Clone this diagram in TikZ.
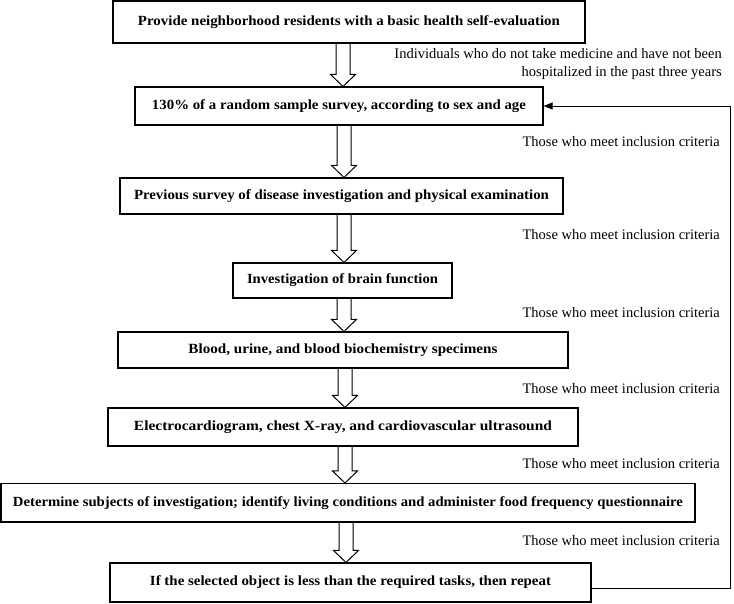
\documentclass[tikz,border=0pt]{standalone}
\usepackage{fontspec}
\setmainfont{Liberation Serif}
\usetikzlibrary{arrows.meta,calc}
\pgfdeclarelayer{bg}
\pgfdeclarelayer{paper}
\pgfsetlayers{paper,bg,main}
\newcommand{\fitw}[2]{\resizebox{#1}{\height}{#2}}
\newcommand{\hollowarrow}[3]{%
  \begin{pgfonlayer}{bg}
  \draw[blk] let \p1=(#2.south), \p2=(#3.north) in
    (#1pt-7pt,\y1) -- (#1pt-7pt,\y2+12pt) -- (#1pt-12.5pt,\y2+12pt) -- (#1pt,\y2)
    -- (#1pt+12.5pt,\y2+12pt) -- (#1pt+7pt,\y2+12pt) -- (#1pt+7pt,\y1);
  \end{pgfonlayer}}
\begin{document}
\begin{tikzpicture}[x=1pt,y=-1pt,
  box/.style={draw=black, line width=1.1pt, fill=white, rectangle, inner sep=0pt,
              font=\bfseries\fontsize{14}{16}\selectfont},
  lbl/.style={font=\fontsize{14.5}{18}\selectfont, align=right, inner sep=0pt, anchor=east},
  blk/.style={draw=black, line width=1pt, fill=white, line join=miter},
  loopline/.style={draw=black, line width=0.9pt, -{Triangle[length=9pt,width=7pt]}}]

\begin{pgfonlayer}{paper}
\path[use as bounding box, fill=white] (0,0) rectangle (734,604);
\end{pgfonlayer}

\node[box, minimum width=472pt, minimum height=42pt] (b1) at (349,22)
  {\fitw{422pt}{Provide neighborhood residents with a basic health self-evaluation}};
\node[box, minimum width=408pt, minimum height=38pt] (b2) at (339,106)
  {\fitw{374pt}{130\% of a random sample survey, according to sex and age}};
\node[box, minimum width=443pt, minimum height=36pt] (b3) at (341.5,196)
  {\fitw{415pt}{Previous survey of disease investigation and physical examination}};
\node[box, minimum width=219pt, minimum height=35pt] (b4) at (342.5,280.5)
  {\fitw{191pt}{Investigation of brain function}};
\node[box, minimum width=450pt, minimum height=36pt] (b5) at (343,350)
  {\fitw{309pt}{Blood, urine, and blood biochemistry specimens}};
\node[box, minimum width=470pt, minimum height=38pt] (b6) at (343,427)
  {\fitw{418pt}{Electrocardiogram, chest X-ray, and cardiovascular ultrasound}};
\node[box, minimum width=694pt, minimum height=38.5pt] (b7) at (348,502.75)
  {\fitw{670pt}{Determine subjects of investigation; identify living conditions and administer food frequency questionnaire}};
\node[box, minimum width=481pt, minimum height=39pt] (b8) at (350.5,582.5)
  {\fitw{401pt}{If the selected object is less than the required tasks, then repeat}};

\node[lbl] (l1) at (722,64) {Individuals who do not take medicine and have not been\\hospitalized in the past three years};
\node[lbl] (l2) at (720,142) {Those who meet inclusion criteria};
\node[lbl] (l3) at (720,235) {Those who meet inclusion criteria};
\node[lbl] (l4) at (720,313) {Those who meet inclusion criteria};
\node[lbl] (l5) at (720,389) {Those who meet inclusion criteria};
\node[lbl] (l6) at (720,464) {Those who meet inclusion criteria};
\node[lbl] (l7) at (720,541) {Those who meet inclusion criteria};

\hollowarrow{343}{b1}{b2}
\hollowarrow{344}{b2}{b3}
\hollowarrow{344}{b3}{b4}
\hollowarrow{344}{b4}{b5}
\hollowarrow{345}{b5}{b6}
\hollowarrow{345}{b6}{b7}
\hollowarrow{346}{b7}{b8}

\coordinate (lp) at (730,0);
\coordinate (e8) at ([yshift=-6pt]b8.east);
\draw[loopline] (e8) -- (e8 -| lp) -- (b2.east -| lp) -- (b2.east);
\end{tikzpicture}
\end{document}
